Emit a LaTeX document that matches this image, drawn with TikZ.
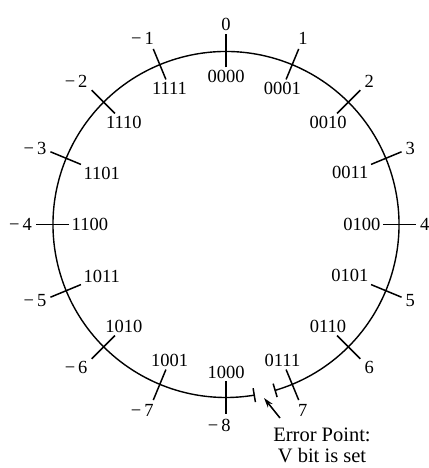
\documentclass[tikz,border=0pt]{standalone}
\usepackage{fontspec}
\setmainfont{Liberation Serif}
\usetikzlibrary{arrows.meta}
\newcommand\mneg{\llap{−\kern3pt}}
\begin{document}
\begin{tikzpicture}[x=1pt,y=1pt,
  tickline/.style={line width=1.5pt},
  ring/.style={line width=1.4pt},
  binlabel/.style={font=\fontsize{18.5}{20}\selectfont, inner sep=2.5pt},
  declabel/.style={font=\fontsize{18.5}{20}\selectfont, inner sep=4pt},
  errtext/.style={font=\fontsize{20.5}{21}\selectfont, inner sep=0pt, align=center}]
\useasboundingbox (0,0) rectangle (428,468);
\coordinate (C) at (226,243.5);
% ring with a gap at the error point
\draw[ring] (C) ++(-73.5:173) coordinate (arcA)
  arc[start angle=-73.5, end angle=279.4, radius=173] coordinate (arcB);
\draw[tickline] (C) ++(-73.5:166) -- ++(-73.5:14);
\draw[tickline] (C) ++(279.4:166) -- ++(279.4:14);
% ticks and labels
\foreach \k/\b/\d in {0/0000/0, 1/0001/1, 2/0010/2, 3/0011/3, 4/0100/4, 5/0101/5, 6/0110/6, 7/0111/7,
  8/1000/\mneg8, 9/1001/\mneg7, 10/1010/\mneg6, 11/1011/\mneg5, 12/1100/\mneg4, 13/1101/\mneg3, 14/1110/\mneg2, 15/1111/\mneg1}{
  \pgfmathsetmacro\a{mod(450-22.5*\k,360)}
  \pgfmathsetmacro\ao{mod(\a+180,360)}
  \draw[tickline] (C) ++(\a:157) coordinate (in\k) -- ++(\a:33) coordinate (out\k);
  \node[binlabel, anchor=\a] (b\k) at (in\k) {\b};
  \node[declabel, anchor=\ao] (d\k) at (out\k) {\d};
}
% error point
\node[errtext, anchor=north] (err) at (322,40) {Error Point:\\V bit is set};
\coordinate (tail) at (280,50);
\coordinate (tip) at (264,70);
\draw[line width=1.5pt, -{Stealth[length=10pt,width=6pt]}] (tail) -- (tip);
\end{tikzpicture}
\end{document}
